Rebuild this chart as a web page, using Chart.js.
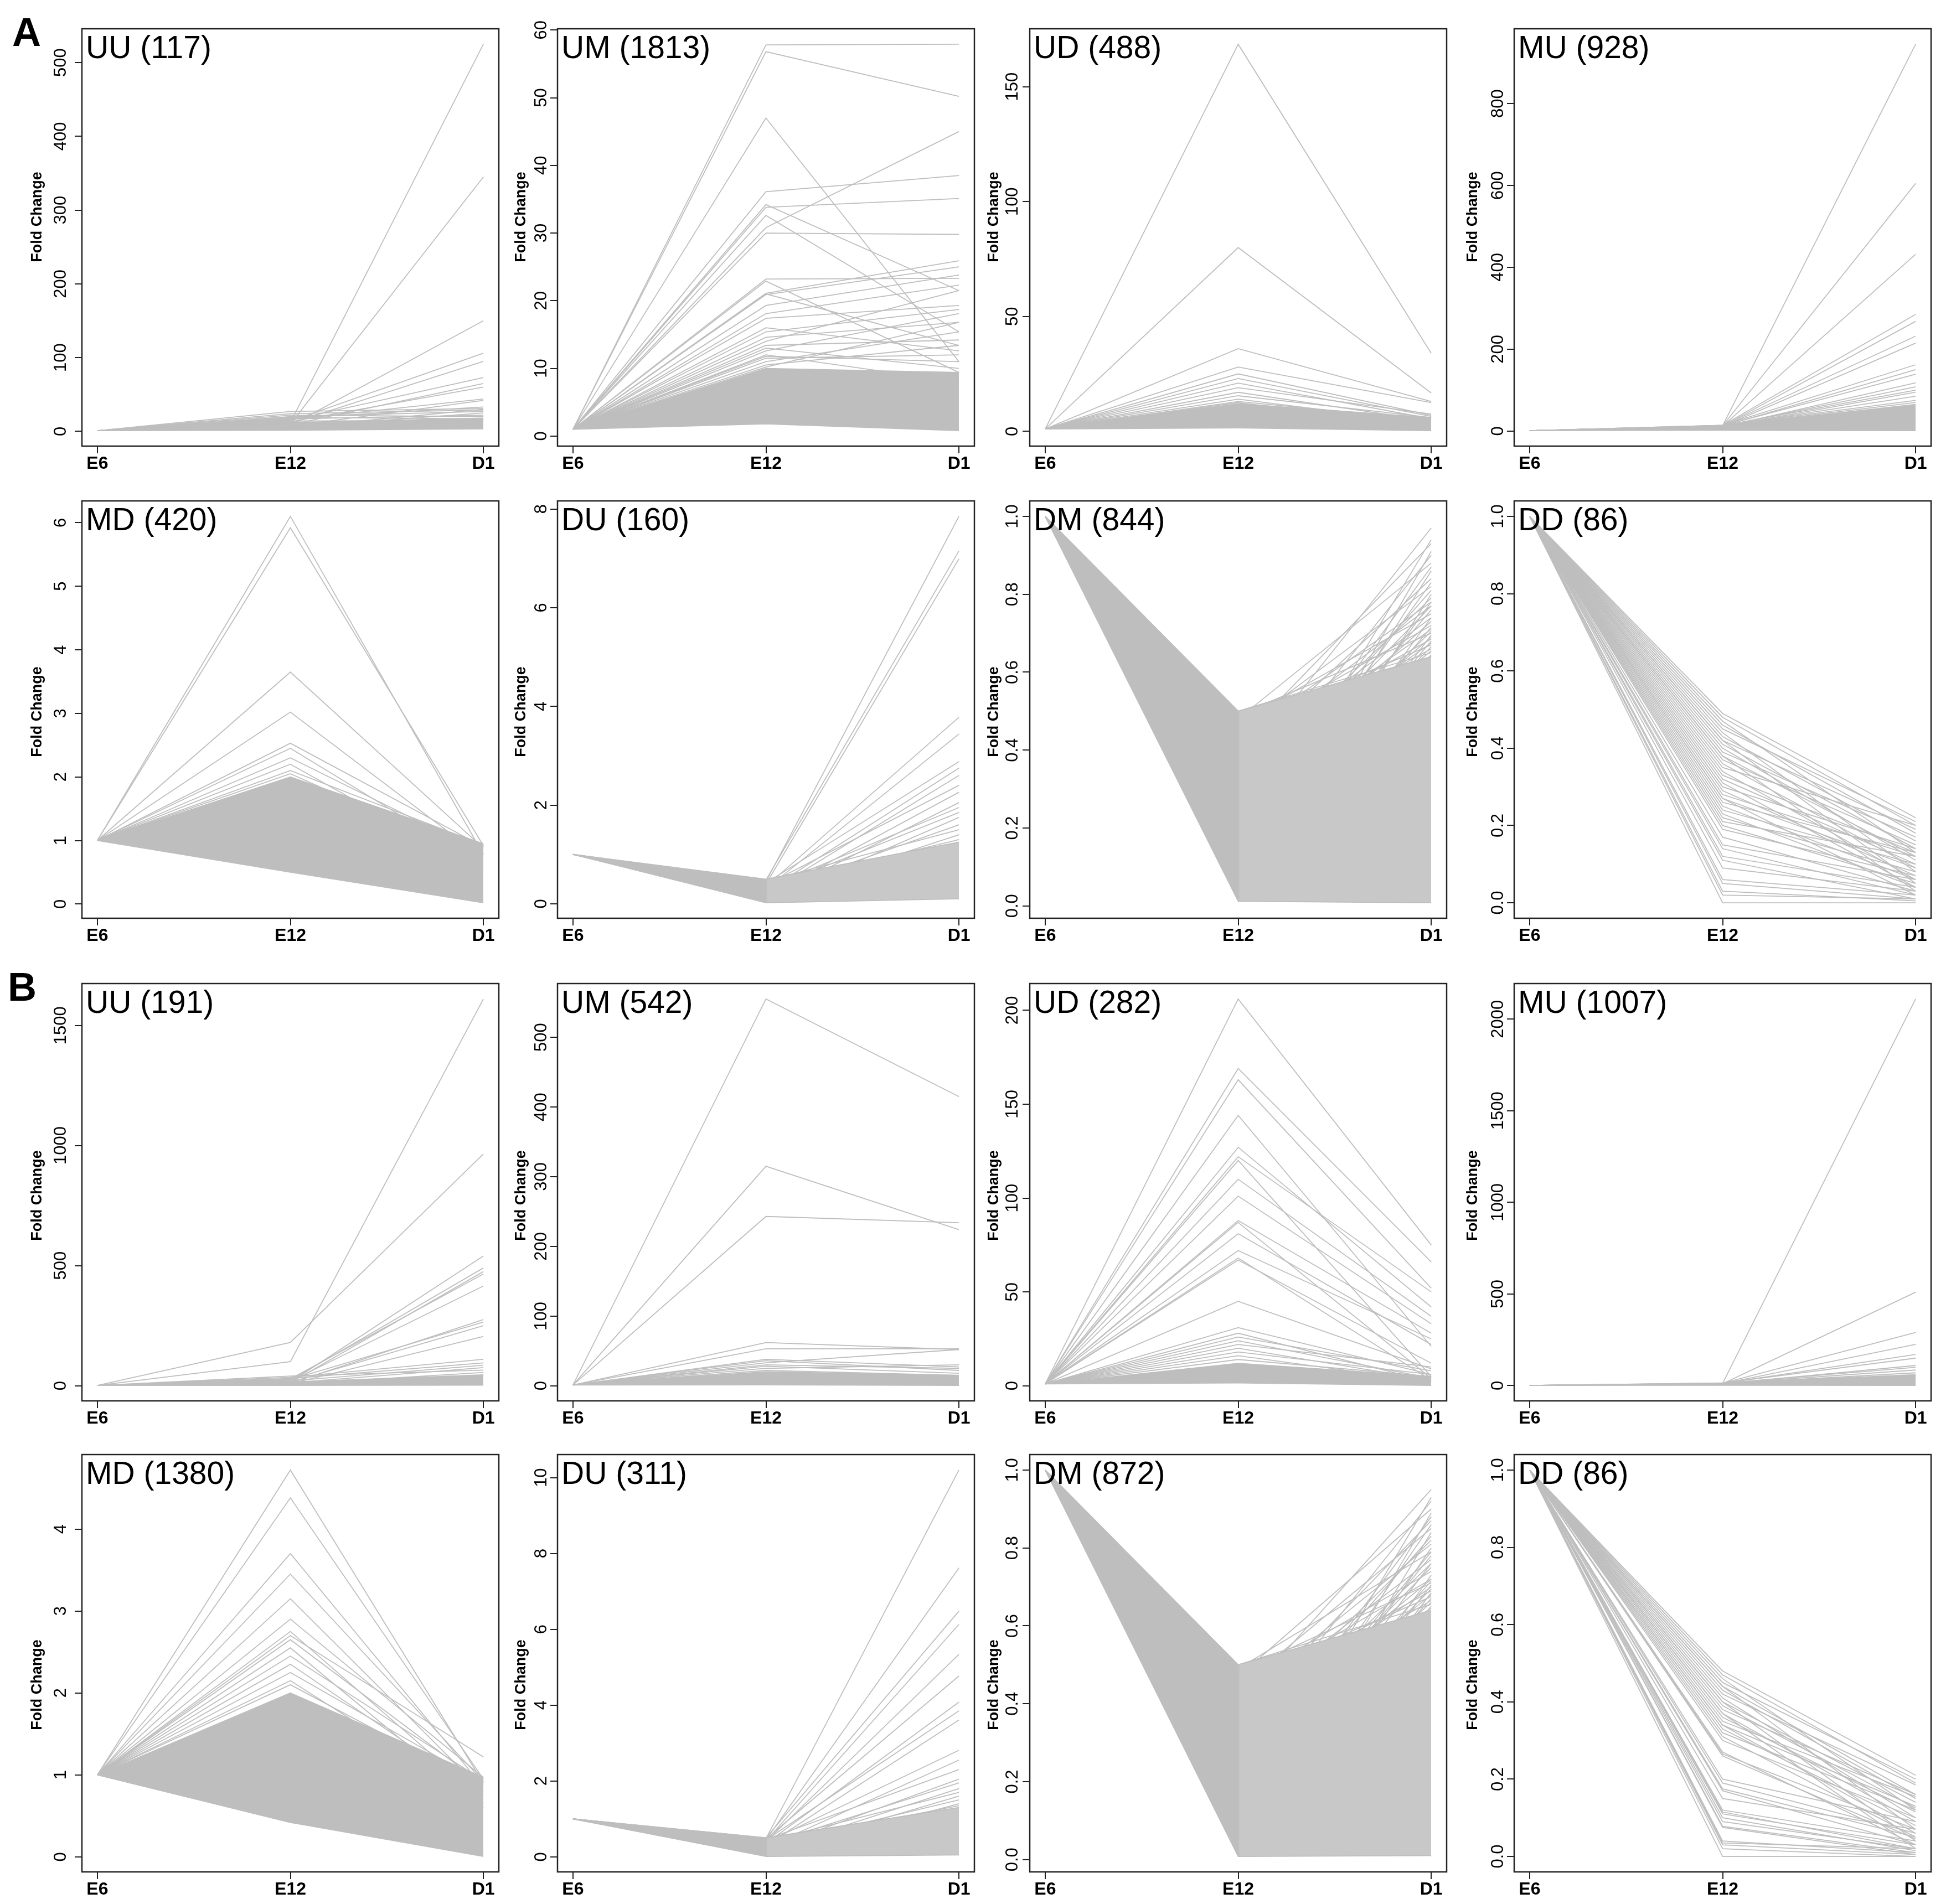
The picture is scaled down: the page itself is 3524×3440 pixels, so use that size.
<!DOCTYPE html>
<html><head><meta charset="utf-8">
<script src="https://cdn.jsdelivr.net/npm/chart.js@4.4.1/dist/chart.umd.min.js"></script>
<style>
html,body{margin:0;padding:0;background:#fff;}
body{width:3524px;height:3440px;position:relative;overflow:hidden;font-family:"Liberation Sans",Arial,sans-serif;}
canvas{position:absolute;}
.part{position:absolute;font:bold 72px/72px "Liberation Sans",Arial,sans-serif;color:#000;}
</style></head><body>
<div class="part" style="left:22px;top:22px">A</div>
<div class="part" style="left:14px;top:1747px">B</div>
<script>
// ---------- DATA ----------
const categories = ["E6", "E12", "D1"];
const xPositions = [1, 2, 3];
const panelTitles = ["UU (117)","UM (1813)","UD (488)","MU (928)","MD (420)","DU (160)","DM (844)","DD (86)",
                     "UU (191)","UM (542)","UD (282)","MU (1007)","MD (1380)","DU (311)","DM (872)","DD (86)"];
const unitTickLabels = ["0.0","0.2","0.4","0.6","0.8","1.0"];

// Part A
const A_UU_ticks = [0,100,200,300,400,500];
const A_UU_bandLow = [1,1.5,3.5];
const A_UU_bandHigh = [1,12,18];
const A_UU_lines = [[1,12,525],[1,10,345],[1,8,150],[1,14,106],[1,11,95],[1,15,73],[1,9,65],[1,13,60],[1,16,44],[1,7,42],
  [1,27,31],[1,24,29],[1,18,33],[1,20,27],[1,6,25],[1,17,22],[1,22,20],[1,5,30],[1,19,17],[1,14,15]];

const A_UM_ticks = [0,10,20,30,40,50,60];
const A_UM_bandLow = [1,1.8,0.8];
const A_UM_bandHigh = [1,10,9.4];
const A_UM_lines = [[1,57.8,57.9],[1,56.8,50.2],[1,47.0,11],[1,36.1,38.5],[1,34.2,21.5],[1,33.8,35.1],[1,32.6,15.4],[1,30.8,45.0],
  [1,30.0,29.8],[1,23.2,23.3],[1,22.9,9.4],[1,21.1,25.9],[1,20.9,25.0],[1,21.0,13.4],[1,19.3,23.8],[1,18.1,22.3],[1,17.4,19.3],
  [1,16.0,12.6],[1,15.4,18.7],[1,14.6,16.8],[1,14.0,21.5],[1,13.4,14.2],[1,12.6,18.1],[1,11.8,11.0],[1,11.0,15.4],[1,10.5,13.4],
  [1,10.2,16.8],[1,12.0,8.0],[1,13.0,10.0],[1,11.5,12.0]];

const A_UD_ticks = [0,50,100,150];
const A_UD_bandLow = [1,1.5,0.3];
const A_UD_bandHigh = [1,12,6];
const A_UD_lines = [[1,168.5,34],[1,80,16.7],[1,36,13],[1,28,12.5],[1,25,7],[1,23,6.5],[1,21,5.5],[1,19,7.5],[1,17,4.5],
  [1,15.5,6],[1,14,3.5],[1,13,5],[1,12.5,2.5],[1,11,4]];

const A_MU_ticks = [0,200,400,600,800];
const A_MU_bandLow = [1,2,1];
const A_MU_bandHigh = [1,13,65];
const A_MU_lines = [[1,13,945],[1,13,605],[1,12,432],[1,14,285],[1,12,268],[1,13,232],[1,11,215],[1,14,162],[1,12,150],
  [1,13,139],[1,10,118],[1,12,108],[1,13,100],[1,11,95],[1,12,85],[1,14,75],[1,13,70]];

const A_MD_ticks = [0,1,2,3,4,5,6];
const A_MD_bandLow = [1,0.5,0.02];
const A_MD_bandHigh = [1,2.0,0.95];
const A_MD_lines = [[1,6.1,0.78],[1,5.92,0.92],[1,3.65,0.88],[1,3.02,0.72],[1,2.53,0.9],[1,2.45,0.6],[1,2.3,0.8],[1,2.2,0.5],
  [1,2.1,0.93],[1,2.05,0.7],[1,1.95,0.9],[1,1.9,0.85]];

const A_DU_ticks = [0,2,4,6,8];
const A_DU_bandLow = [1,0.02,0.1];
const A_DU_bandHigh = [1,0.5,1.25];
const A_DU_lines = [[1,0.45,7.85],[1,0.48,7.15],[1,0.4,6.99],[1,0.35,3.78],[1,0.3,3.44],[1,0.42,2.88],[1,0.25,2.75],[1,0.2,2.6],
  [1,0.38,2.4],[1,0.15,2.26],[1,0.1,2.05],[1,0.32,1.95],[1,0.28,1.85],[1,0.05,1.75],[1,0.22,1.6],[1,0.46,1.5],[1,0.12,1.4],
  [1,0.36,1.3],[1,0.08,1.2],[1,0.18,0.12],[1,0.03,0.15],[1,0.43,0.25]];

const A_DM_ticks = [0,0.2,0.4,0.6,0.8,1];
const A_DM_bandLow = [1,0.012,0.008];
const A_DM_bandHigh = [1,0.5,0.64];
const A_DM_lines = [[1,0.35,0.97],[1,0.12,0.94],[1,0.42,0.93],[1,0.05,0.91],[1,0.28,0.9],[1,0.48,0.88],[1,0.2,0.87],[1,0.08,0.86],
  [1,0.38,0.84],[1,0.15,0.83],[1,0.45,0.82],[1,0.25,0.81],[1,0.02,0.8],[1,0.32,0.79],[1,0.1,0.78],[1,0.4,0.77],[1,0.18,0.76],
  [1,0.47,0.75],[1,0.06,0.74],[1,0.3,0.73],[1,0.44,0.72],[1,0.14,0.715],[1,0.36,0.71],[1,0.22,0.705],[1,0.49,0.7],[1,0.04,0.695],
  [1,0.27,0.69],[1,0.41,0.685],[1,0.09,0.68],[1,0.33,0.675],[1,0.46,0.67],[1,0.17,0.665],[1,0.39,0.66],[1,0.24,0.655],
  [1,0.5,0.65],[1,0.11,0.645],[1,0.3,0.64],[1,0.43,0.78],[1,0.26,0.77],[1,0.37,0.74]];

const A_DD_ticks = [0,0.2,0.4,0.6,0.8,1];
const A_DD_lines = [[1,0.49,0.22],[1,0.48,0.2],[1,0.47,0.13],[1,0.46,0.18],[1,0.45,0.21],[1,0.44,0.08],[1,0.43,0.16],[1,0.42,0.19],
  [1,0.42,0.05],[1,0.41,0.14],[1,0.40,0.11],[1,0.39,0.17],[1,0.38,0.03],[1,0.38,0.12],[1,0.37,0.15],[1,0.36,0.09],[1,0.35,0.2],
  [1,0.34,0.06],[1,0.33,0.13],[1,0.32,0.1],[1,0.31,0.04],[1,0.30,0.14],[1,0.29,0.07],[1,0.28,0.12],[1,0.27,0.02],[1,0.27,0.09],
  [1,0.26,0.13],[1,0.25,0.06],[1,0.24,0.1],[1,0.23,0.04],[1,0.22,0.08],[1,0.21,0.12],[1,0.2,0.05],[1,0.19,0.07],[1,0.17,0.03],
  [1,0.15,0.06],[1,0.14,0.02],[1,0.12,0.04],[1,0.11,0.01],[1,0.09,0.03],[1,0.06,0.02],[1,0.05,0.01],[1,0.03,0.005],[1,0.02,0.01],[1,0.0,0.0]];

// Part B
const B_UU_ticks = [0,500,1000,1500];
const B_UU_bandLow = [1,1.2,2];
const B_UU_bandHigh = [1,15,45];
const B_UU_lines = [[1,100,1610],[1,180,965],[1,15,540],[1,22,490],[1,12,475],[1,28,465],[1,18,415],[1,10,275],[1,25,265],
  [1,14,250],[1,8,205],[1,35,110],[1,30,95],[1,20,85],[1,12,75],[1,40,65],[1,6,55]];

const B_UM_ticks = [0,100,200,300,400,500];
const B_UM_bandLow = [1,1.2,0.5];
const B_UM_bandHigh = [1,20,15];
const B_UM_lines = [[1,555,415],[1,315,224],[1,243,234],[1,62,52],[1,53,53],[1,38,27],[1,36,22],[1,33,52],[1,30,25],
  [1,28,18],[1,25,30],[1,22,15]];

const B_UD_ticks = [0,50,100,150,200];
const B_UD_bandLow = [1,1.5,0.2];
const B_UD_bandHigh = [1,12,5];
const B_UD_lines = [[1,206,75],[1,169,66],[1,163,52],[1,144,21],[1,127,42],[1,122,50],[1,120,5],[1,110,37],[1,101,33],
  [1,88,28],[1,87,4],[1,81,22],[1,72,25],[1,68,3],[1,67,12],[1,45,9],[1,31,6],[1,28,2],[1,26,8],[1,24,4],[1,22,10],[1,20,3],
  [1,18,6],[1,16,2],[1,14,5]];

const B_MU_ticks = [0,500,1000,1500,2000];
const B_MU_bandLow = [1,2,1];
const B_MU_bandHigh = [1,14,60];
const B_MU_lines = [[1,12,2110],[1,10,510],[1,13,290],[1,11,225],[1,12,170],[1,14,150],[1,10,110],[1,13,100],[1,12,85],[1,11,70]];

const B_MD_ticks = [0,1,2,3,4];
const B_MD_bandLow = [1,0.42,0.005];
const B_MD_bandHigh = [1,2.0,0.97];
const B_MD_lines = [[1,4.72,0.9],[1,4.38,0.95],[1,3.7,0.85],[1,3.45,0.92],[1,3.15,0.8],[1,2.9,0.97],[1,2.75,0.7],[1,2.7,1.22],
  [1,2.65,0.88],[1,2.55,0.6],[1,2.45,0.93],[1,2.35,0.75],[1,2.25,0.9],[1,2.15,0.65],[1,2.1,0.85],[1,0.42,0.05],[1,0.45,0.1]];

const B_DU_ticks = [0,2,4,6,8,10];
const B_DU_bandLow = [1,0.01,0.05];
const B_DU_bandHigh = [1,0.5,1.3];
const B_DU_lines = [[1,0.48,10.2],[1,0.45,7.62],[1,0.5,6.48],[1,0.42,6.13],[1,0.4,5.34],[1,0.47,4.77],[1,0.35,4.08],[1,0.44,3.85],
  [1,0.3,3.61],[1,0.38,2.81],[1,0.25,2.55],[1,0.46,2.3],[1,0.2,2.05],[1,0.33,1.95],[1,0.15,1.8],[1,0.41,1.7],[1,0.1,1.6],
  [1,0.28,1.5],[1,0.05,1.4],[1,0.36,1.35]];

const B_DM_ticks = [0,0.2,0.4,0.6,0.8,1];
const B_DM_bandLow = [1,0.008,0.01];
const B_DM_bandHigh = [1,0.5,0.64];
const B_DM_lines = [[1,0.4,0.95],[1,0.1,0.93],[1,0.3,0.92],[1,0.47,0.9],[1,0.05,0.89],[1,0.22,0.88],[1,0.36,0.87],[1,0.14,0.86],
  [1,0.44,0.85],[1,0.02,0.84],[1,0.27,0.83],[1,0.33,0.82],[1,0.08,0.8],[1,0.49,0.79],[1,0.18,0.78],[1,0.39,0.77],[1,0.12,0.76],
  [1,0.25,0.75],[1,0.45,0.74],[1,0.04,0.73],[1,0.31,0.72],[1,0.16,0.715],[1,0.48,0.71],[1,0.07,0.705],[1,0.35,0.7],[1,0.2,0.695],
  [1,0.42,0.69],[1,0.03,0.685],[1,0.28,0.68],[1,0.46,0.675],[1,0.13,0.67],[1,0.38,0.665],[1,0.23,0.66],[1,0.5,0.655],
  [1,0.09,0.65],[1,0.34,0.645],[1,0.41,0.81],[1,0.19,0.79],[1,0.29,0.76],[1,0.43,0.72]];

const B_DD_ticks = [0,0.2,0.4,0.6,0.8,1];
const B_DD_lines = [[1,0.48,0.21],[1,0.47,0.19],[1,0.46,0.12],[1,0.45,0.2],[1,0.44,0.16],[1,0.44,0.07],[1,0.43,0.15],[1,0.42,0.185],
  [1,0.41,0.1],[1,0.40,0.14],[1,0.40,0.04],[1,0.39,0.125],[1,0.38,0.16],[1,0.37,0.09],[1,0.37,0.02],[1,0.36,0.115],[1,0.35,0.155],
  [1,0.34,0.06],[1,0.34,0.13],[1,0.33,0.08],[1,0.32,0.12],[1,0.31,0.05],[1,0.30,0.1],[1,0.27,0.03],[1,0.265,0.07],[1,0.26,0.045],
  [1,0.2,0.09],[1,0.19,0.06],[1,0.175,0.05],[1,0.17,0.03],[1,0.15,0.07],[1,0.12,0.04],[1,0.115,0.02],[1,0.11,0.03],[1,0.10,0.015],
  [1,0.09,0.02],[1,0.078,0.01],[1,0.075,0.005],[1,0.04,0.01],[1,0.035,0.02],[1,0.03,0.005],[1,0.02,0.0],[1,0.0,0.0]];

// ---------- PANEL TABLE (built from the arrays above) ----------
const panelData = [
  {lines:A_UU_lines, low:A_UU_bandLow, high:A_UU_bandHigh, ticks:A_UU_ticks},
  {lines:A_UM_lines, low:A_UM_bandLow, high:A_UM_bandHigh, ticks:A_UM_ticks},
  {lines:A_UD_lines, low:A_UD_bandLow, high:A_UD_bandHigh, ticks:A_UD_ticks},
  {lines:A_MU_lines, low:A_MU_bandLow, high:A_MU_bandHigh, ticks:A_MU_ticks},
  {lines:A_MD_lines, low:A_MD_bandLow, high:A_MD_bandHigh, ticks:A_MD_ticks},
  {lines:A_DU_lines, low:A_DU_bandLow, high:A_DU_bandHigh, ticks:A_DU_ticks},
  {lines:A_DM_lines, low:A_DM_bandLow, high:A_DM_bandHigh, ticks:A_DM_ticks, labels:unitTickLabels},
  {lines:A_DD_lines, low:null, high:null, ticks:A_DD_ticks, labels:unitTickLabels},
  {lines:B_UU_lines, low:B_UU_bandLow, high:B_UU_bandHigh, ticks:B_UU_ticks},
  {lines:B_UM_lines, low:B_UM_bandLow, high:B_UM_bandHigh, ticks:B_UM_ticks},
  {lines:B_UD_lines, low:B_UD_bandLow, high:B_UD_bandHigh, ticks:B_UD_ticks},
  {lines:B_MU_lines, low:B_MU_bandLow, high:B_MU_bandHigh, ticks:B_MU_ticks},
  {lines:B_MD_lines, low:B_MD_bandLow, high:B_MD_bandHigh, ticks:B_MD_ticks},
  {lines:B_DU_lines, low:B_DU_bandLow, high:B_DU_bandHigh, ticks:B_DU_ticks},
  {lines:B_DM_lines, low:B_DM_bandLow, high:B_DM_bandHigh, ticks:B_DM_ticks, labels:unitTickLabels},
  {lines:B_DD_lines, low:null, high:null, ticks:B_DD_ticks, labels:unitTickLabels}
];

// ---------- LAYOUT / STYLE ----------
const colLeft = [148, 1007, 1860, 2735];
const rowTop = [52, 905, 1777, 2628];
const BOX_W = 753, BOX_H = 754, LM = 110, TM = 40, RM = 10, BM = 70;
const tickGap = [29, 20, 22, 20];
const foldOffset = [80, 65, 64, 74];
const foldShift = [-37, 4, 6, 39];
const texturedRight = [false,false,false,false,false,true,true,false,false,false,false,false,false,true,true,false];
const GRAY = '#bebebe', GRAY_LIGHT = '#c8c8c8', AXIS = '#222';
const FONT = '"Liberation Sans", Arial, sans-serif';

function makeDecor(p, i, col, row) {
  return {
    id: 'panelDecor' + i,
    afterDraw(chart) {
      const ctx = chart.ctx, a = chart.chartArea, y = chart.scales.y;
      ctx.save();
      ctx.strokeStyle = AXIS; ctx.lineWidth = 2.5;
      ctx.strokeRect(a.left, a.top, a.right - a.left, a.bottom - a.top);
      ctx.fillStyle = '#000';
      ctx.font = '31px ' + FONT;
      ctx.textAlign = 'center'; ctx.textBaseline = 'alphabetic';
      p.ticks.forEach((v, k) => {
        const py = y.getPixelForValue(v);
        const lab = p.labels ? p.labels[k] : String(v);
        ctx.save(); ctx.translate(a.left - tickGap[col], py); ctx.rotate(-Math.PI / 2);
        ctx.fillText(lab, 0, 0); ctx.restore();
      });
      ctx.font = 'bold 27px ' + FONT;
      ctx.save();
      ctx.translate(a.left - foldOffset[col] + 7, (a.top + a.bottom) / 2 + foldShift[row]);
      ctx.rotate(-Math.PI / 2);
      ctx.fillText('Fold Change', 0, 0);
      ctx.restore();
      ctx.font = '57px ' + FONT;
      ctx.textAlign = 'left';
      ctx.fillText(panelTitles[i], a.left + 7, a.top + 53);
      ctx.restore();
    }
  };
}

function bandFill(light) {
  return (c) => {
    const chart = c.chart, area = chart.chartArea;
    if (!area || !light) return GRAY;
    const xm = chart.scales.x.getPixelForValue(xPositions[1]);
    const g = chart.ctx.createLinearGradient(area.left, 0, area.right, 0);
    const f = (xm - area.left) / (area.right - area.left);
    g.addColorStop(0, GRAY); g.addColorStop(f, GRAY);
    g.addColorStop(Math.min(1, f + 0.004), GRAY_LIGHT); g.addColorStop(1, GRAY_LIGHT);
    return g;
  };
}

panelData.forEach((p, i) => {
  const col = i % 4, row = Math.floor(i / 4);
  const W = LM + BOX_W + RM, H = TM + BOX_H + BM;
  const canvas = document.createElement('canvas');
  canvas.width = W; canvas.height = H;
  canvas.style.width = W + 'px'; canvas.style.height = H + 'px';
  canvas.style.left = (colLeft[col] - LM) + 'px';
  canvas.style.top = (rowTop[row] - TM) + 'px';
  document.body.appendChild(canvas);

  const all = [];
  p.lines.forEach(l => all.push(...l));
  if (p.low) all.push(...p.low, ...p.high);
  const dmin = Math.min(...all), dmax = Math.max(...all), pad = (dmax - dmin) * 0.04;

  const datasets = [];
  if (p.low) {
    datasets.push({data: p.low.map((v, k) => ({x: xPositions[k], y: v})), borderColor: GRAY, borderWidth: 1.8, fill: false});
    datasets.push({data: p.high.map((v, k) => ({x: xPositions[k], y: v})), borderColor: GRAY, borderWidth: 1.8,
                   fill: '-1', backgroundColor: bandFill(texturedRight[i])});
  }
  p.lines.forEach(l => datasets.push({
    data: l.map((v, k) => ({x: xPositions[k], y: v})),
    borderColor: GRAY, borderWidth: 1.8, fill: false
  }));

  const gridOpts = {drawOnChartArea: false, drawTicks: true, tickLength: 13, color: AXIS, lineWidth: 2};
  new Chart(canvas, {
    type: 'line',
    data: {datasets},
    options: {
      responsive: false, animation: false, devicePixelRatio: 1, events: [],
      layout: {padding: {left: 0, top: TM, right: RM, bottom: 0}},
      elements: {point: {radius: 0}, line: {tension: 0}},
      plugins: {legend: {display: false}, tooltip: {enabled: false}, title: {display: false}},
      scales: {
        x: {
          type: 'linear', min: 0.92, max: 3.08,
          afterBuildTicks: s => { s.ticks = xPositions.map(v => ({value: v})); },
          afterFit: s => { s.height = BM; },
          ticks: {callback: v => categories[xPositions.indexOf(v)], autoSkip: false, maxRotation: 0, minRotation: 0,
                  padding: 0, color: '#000', font: {family: FONT, size: 32, weight: 'bold'}},
          grid: gridOpts, border: {display: false}
        },
        y: {
          type: 'linear', min: dmin - pad, max: dmax + pad,
          afterBuildTicks: s => { s.ticks = p.ticks.map(v => ({value: v})); },
          afterFit: s => { s.width = LM; },
          ticks: {display: false},
          grid: gridOpts, border: {display: false}
        }
      }
    },
    plugins: [makeDecor(p, i, col, row)]
  });
});
</script></body></html>
